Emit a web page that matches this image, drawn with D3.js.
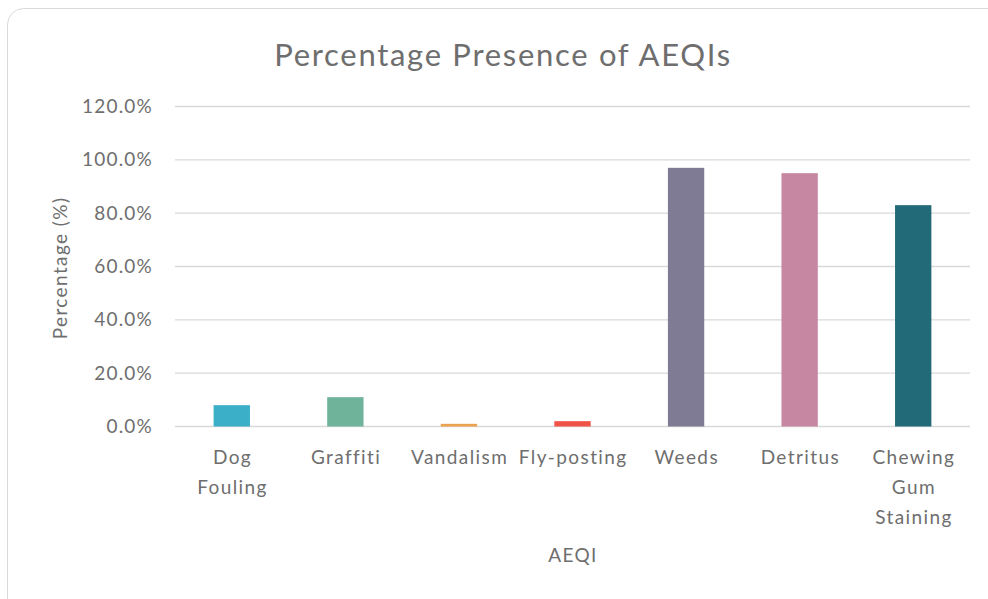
<!DOCTYPE html>
<html><head><meta charset="utf-8">
<script src="https://cdn.jsdelivr.net/npm/d3@7"></script>
<style>
body{margin:0;background:#fff;}
svg{display:block;font-family:Lato,"Open Sans",sans-serif;}
</style></head>
<body>
<svg id="c" width="988" height="599"></svg>
<script>
const categories = [["Dog","Fouling"],["Graffiti"],["Vandalism"],["Fly-posting"],["Weeds"],["Detritus"],["Chewing","Gum","Staining"]];
const values = [0.08, 0.11, 0.01, 0.02, 0.97, 0.95, 0.83];
const colors = ["#3AAFC7","#70B39B","#EBA14F","#EF5347","#7F7B94","#C687A2","#226A78"];
const yTicks = [0, 0.2, 0.4, 0.6, 0.8, 1.0, 1.2];
const title = "Percentage Presence of AEQIs";
const yTitle = "Percentage (%)";
const xTitle = "AEQI";

const textCol = "#6e6e6e";
const svg = d3.select("#c");
svg.append("rect").attr("x",7.5).attr("y",8.5).attr("width",1000).attr("height",620)
  .attr("rx",16).attr("fill","#fff").attr("stroke","#d9d9d9").attr("stroke-width",1);

const pL=175, pR=970, pT=106.5, pB=426.5;
const x = d3.scaleBand().domain(d3.range(categories.length)).range([pL,pR]).paddingInner(0.68).paddingOuter(0.34);
const y = d3.scaleLinear().domain([0,1.2]).range([pB,pT]);

svg.append("g").selectAll("line").data(yTicks).join("line")
  .attr("x1",pL).attr("x2",pR).attr("y1",d=>y(d)).attr("y2",d=>y(d))
  .attr("stroke","#d9d9d9").attr("stroke-width",1.3);

svg.append("g").selectAll("text").data(yTicks).join("text")
  .attr("x",153).attr("y",d=>y(d)).attr("dy","0.35em").attr("text-anchor","end")
  .attr("font-size",19).attr("letter-spacing",1.2).attr("fill",textCol).text(d=>d3.format(".1%")(d));

svg.append("g").selectAll("rect").data(values).join("rect")
  .attr("x",(d,i)=>x(i)).attr("width",x.bandwidth())
  .attr("y",d=>y(d)).attr("height",d=>pB-y(d))
  .attr("fill",(d,i)=>colors[i]);

const xl = svg.append("g").selectAll("text").data(categories).join("text")
  .attr("x",(d,i)=>x(i)+x.bandwidth()/2+0.7).attr("y",464).attr("text-anchor","middle")
  .attr("font-size",19).attr("letter-spacing",1.4).attr("fill",textCol);
xl.selectAll("tspan").data(d=>d).join("tspan")
  .attr("x",function(){return this.parentNode.getAttribute("x");})
  .attr("dy",(d,i)=>i?30:0).text(d=>d);

svg.append("text").attr("x",503).attr("y",66).attr("text-anchor","middle")
  .attr("font-size",31).attr("letter-spacing",1.7).attr("fill",textCol).text(title);
svg.append("text").attr("transform","translate(67,268) rotate(-90)").attr("text-anchor","middle")
  .attr("font-size",19).attr("letter-spacing",1.4).attr("fill",textCol).text(yTitle);
svg.append("text").attr("x",573).attr("y",562).attr("text-anchor","middle")
  .attr("font-size",19).attr("letter-spacing",1.4).attr("fill",textCol).text(xTitle);
</script>
</body></html>
